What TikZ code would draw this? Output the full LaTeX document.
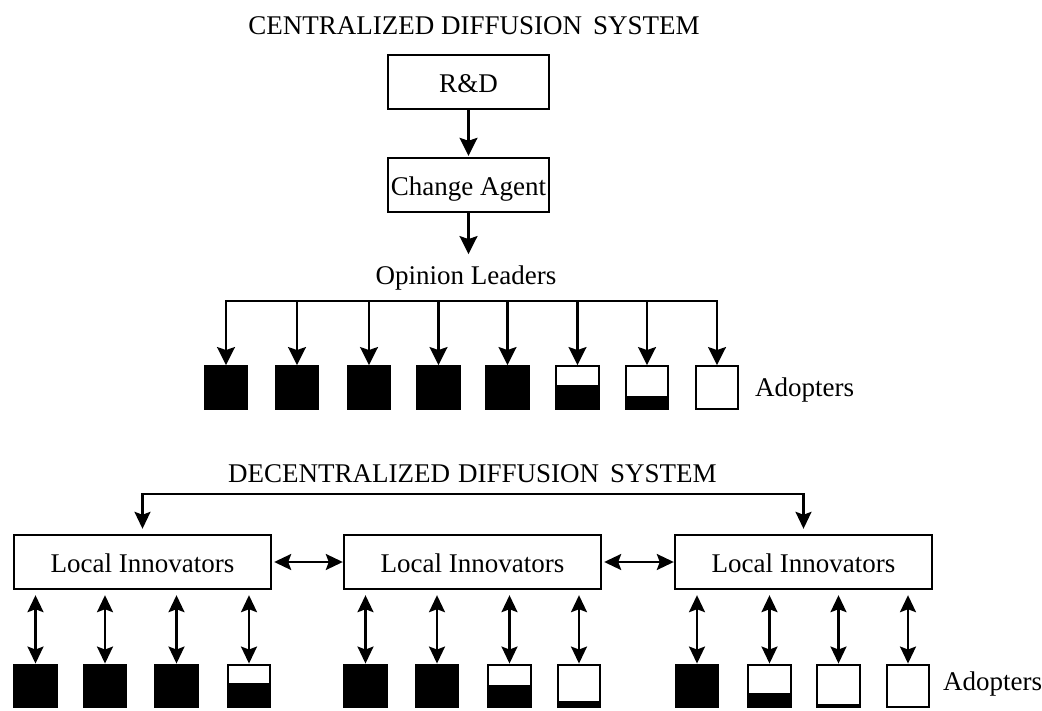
\documentclass[tikz,border=0pt]{standalone}
\usepackage{fontspec}
\setmainfont{Liberation Serif}
\usetikzlibrary{arrows.meta}
\tikzset{
  lbl/.style={font=\fontsize{27}{31}\selectfont, inner sep=0pt},
  box/.style={draw, line width=2.4pt, inner sep=0pt, font=\fontsize{27}{31}\selectfont,
    text height=21pt, text depth=0pt, minimum height=54pt},
  arr/.style={line width=2.2pt, -{Stealth[length=18pt,width=18pt,inset=3pt]}},
  dbl/.style={line width=2.2pt,
    {Stealth[length=17pt,width=16pt,inset=3pt]}-{Stealth[length=17pt,width=16pt,inset=3pt]}},
  plain/.style={line width=2.2pt},
  % adopter square, filled from the bottom up to the given fraction
  adopt/.style={draw, line width=2.4pt, inner sep=0pt, minimum width=42.5pt, minimum height=42.5pt,
    path picture={\fill[black] (path picture bounding box.south west)
      rectangle ([yshift=#1*42.5pt]path picture bounding box.south east);}},
  adopt/.default=0
}
\begin{document}
\begin{tikzpicture}[x=1pt,y=-1pt]
\useasboundingbox (0,0) rectangle (1042,711);

% ---------- centralized system ----------
\node[lbl, anchor=base] (ctitle) at (474,35) {CENTRALIZED DIFFUSION\hspace{11pt}SYSTEM};
\node[box, minimum width=161pt] (rd) at (468.5,82) {R\&D};
\node[box, minimum width=161pt] (ca) at (468.5,185) {Change Agent};
\node[lbl, anchor=base] (ol) at (466,285) {Opinion Leaders};

\draw[arr, shorten >=1pt] (rd.south) -- (ca.north);
\draw[arr] (ca.south) -- ([yshift=12pt]ca.south |- ol.north);

\coordinate (busL) at (226,301);
\coordinate (busR) at (717,301);
\draw[plain, line cap=rect] (busL) -- (busR);

\foreach \i/\x/\f in {1/226/1, 2/297/1, 3/369/1, 4/438.5/1, 5/507.5/1,
                      6/577.5/0.56, 7/647/0.29, 8/717/0} {
  \node[adopt=\f] (t\i) at (\x,387.5) {};
  \draw[arr] (t\i.north |- busL) -- (t\i.north);
}
\node[lbl, anchor=base west] (adtop) at (755,396) {Adopters};

% ---------- decentralized system ----------
\node[lbl, anchor=base] (dtitle) at (472.5,482) {DECENTRALIZED\hspace{8pt}DIFFUSION\hspace{11pt}SYSTEM};
\node[box, minimum width=257pt] (b1) at (142.5,562) {Local Innovators};
\node[box, minimum width=257pt] (b2) at (472.5,562) {Local Innovators};
\node[box, minimum width=257pt] (b3) at (803.5,562) {Local Innovators};

\coordinate (brL) at (142.5,494);
\coordinate (brR) at (803.5,494);
\draw[dbl, shorten <=5pt, shorten >=5pt] (b1.north) -- (brL) -- (brR) -- (b3.north);

\draw[dbl, shorten <=2pt] (b1.east) -- (b2.west);
\draw[dbl, shorten <=2pt] (b2.east) -- (b3.west);

\foreach \i/\x/\f/\b in {1/35.5/1/b1, 2/105/1/b1, 3/176.5/1/b1, 4/249/0.57/b1,
                         5/365.5/1/b2, 6/437/1/b2, 7/509.5/0.52/b2, 8/579/0.14/b2,
                         9/697/1/b3, 10/769.5/0.34/b3, 11/838.5/0.07/b3, 12/908/0/b3} {
  \node[adopt=\f] (s\i) at (\x,686) {};
  \draw[dbl, shorten >=5pt] (s\i.north) -- (s\i.north |- \b.south);
}
\node[lbl, anchor=base west] (adbot) at (943,690) {Adopters};
\end{tikzpicture}
\end{document}
